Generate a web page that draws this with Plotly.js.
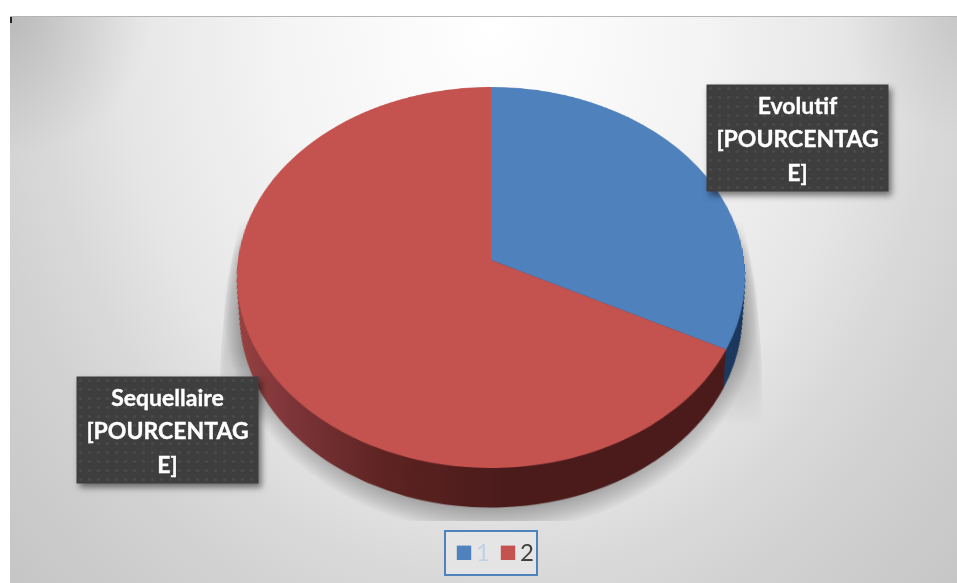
<!DOCTYPE html>
<html>
<head>
<meta charset="utf-8">
<script src="https://cdn.plot.ly/plotly-3.0.1.min.js"></script>
<style>
  html, body { margin: 0; padding: 0; background: #fff; width: 957px; height: 583px; overflow: hidden; }
  #panel { position: absolute; left: 10px; top: 16px; width: 947px; height: 567px; overflow: hidden;
    border-top: 1px solid #b5b5b5; box-sizing: border-box;
    background:
      radial-gradient(circle 140px at 0 0, rgba(0,0,0,.13), rgba(0,0,0,0)),
      radial-gradient(circle 120px at 100% 0, rgba(0,0,0,.07), rgba(0,0,0,0)),
      radial-gradient(ellipse 650px 800px at 480px 10px, #ffffff 0%, #f4f4f4 32%, #e6e6e6 56%, #d9d9d9 69%, #d1d1d1 80%, #c6c6c6 100%); }
  #castShadow { position: absolute; left: 0; top: 0; width: 947px; height: 504px; overflow: hidden; }
  #castShadow div { position: absolute; border-radius: 50%; }
  #castFar { left: 209px; top: -92px; width: 544px; height: 952px;
    background: radial-gradient(closest-side, rgba(0,0,0,.2) 0%, rgba(0,0,0,.2) 92%, rgba(0,0,0,.11) 98%, rgba(0,0,0,.05) 99.6%, rgba(0,0,0,0) 100%);
    -webkit-mask-image: linear-gradient(to bottom, transparent 295px, #000 330px, #000 426px, transparent 500px);
    mask-image: linear-gradient(to bottom, transparent 295px, #000 330px, #000 426px, transparent 500px); }
  #castNear { left: 213px; top: 72px; width: 536px; height: 444px;
    background: radial-gradient(closest-side, rgba(0,0,0,.3) 0%, rgba(0,0,0,.3) 88%, rgba(0,0,0,.14) 95%, rgba(0,0,0,0) 100%); }
  #chart { position: absolute; left: 0; top: 0; width: 957px; height: 583px; }
</style>
</head>
<body>
<div id="panel"><div id="castShadow"><div id="castFar"></div><div id="castNear"></div></div></div>
<div id="chart"></div>
<script>
// Share of cases by outcome
const legendKeys = ['1', '2'];
const shares = [32.5, 67.5];
const faceColors = ['#4f81bd', '#c4524f'];
const rimColors = ['#1f3a5f', '#4b1b1b'];
const calloutLines = [
  'Evolutif<br>[POURCENTAG<br>E]',
  'Sequellaire<br>[POURCENTAG<br>E]'
];

// Disc geometry before the tilt is applied, in page pixels
const W = 957, H = 583, CX = 491, CY = 260, R = 250;
const RIM_STEPS = 44, RIM_DROP = 0.2, RIM_SHRINK = 0.03;

function disc(offset, radius, colors, legend) {
  return {
    type: 'pie', values: shares, labels: legendKeys, sort: false, direction: 'clockwise', rotation: 0,
    textinfo: 'none', hoverinfo: 'none', showlegend: legend,
    marker: { colors: colors, line: { width: 0 } },
    domain: {
      x: [(CX - radius) / W, (CX + radius) / W],
      y: [1 - (CY + offset + radius) / H, 1 - (CY + offset - radius) / H]
    }
  };
}

// Stacked discs build up the rim, the top face goes last
const traces = [];
for (let i = RIM_STEPS; i >= 1; i--) {
  const t = i / RIM_STEPS;
  traces.push(disc(t * RIM_DROP * R, R * (1 - RIM_SHRINK * t), rimColors, false));
}
traces.push(disc(0, R, faceColors, true));

const calloutStyle = {
  xref: 'paper', yref: 'paper', xanchor: 'center', yanchor: 'middle', showarrow: false, width: 181, height: 106,
  bgcolor: '#404040', borderpad: 0, align: 'center', valign: 'middle',
  font: { family: 'Lato, sans-serif', size: 23, color: '#ffffff', weight: 700 }
};

const layout = {
  width: W, height: H,
  margin: { l: 0, r: 0, t: 0, b: 0, autoexpand: false },
  paper_bgcolor: 'rgba(0,0,0,0)',
  showlegend: true,
  legend: {
    orientation: 'h', x: 444 / W, y: 1 - 530 / H, xanchor: 'left', yanchor: 'top',
    bgcolor: 'rgba(232,232,232,0.7)', bordercolor: '#4f81bd', borderwidth: 2,
    font: { family: 'Lato, sans-serif', size: 22, color: '#404040' }
  },
  annotations: [
    Object.assign({ text: calloutLines[0], x: 797 / W, y: 1 - 137.5 / H }, calloutStyle),
    Object.assign({ text: calloutLines[1], x: 167 / W, y: 1 - 429.5 / H }, calloutStyle)
  ],
  shapes: [{ type: 'rect', xref: 'paper', yref: 'paper', x0: 10 / W, x1: 12 / W, y0: 1 - 23 / H, y1: 1 - 17 / H,
    fillcolor: '#222222', line: { width: 0 } }]
};

const gd = document.getElementById('chart');
Plotly.newPlot(gd, traces, layout, { displayModeBar: false, staticPlot: true }).then(function () {
  const svgNS = 'http://www.w3.org/2000/svg';
  const paper = gd.querySelector('.main-svg');

  // Tilt the discs back with a perspective projection around the pie centre
  const a = 188.9 / R, b = 253 / R, k = -0.0918 / R;
  paper.style.transformOrigin = CX + 'px ' + CY + 'px';
  paper.style.transform = 'matrix3d(' + [b, 0, 0, 0, 0, a, 0, k, 0, 0, 1, 0, 0, 0, 0, 1].join(',') + ')';

  // Rim shading runs from lit on the left to dark at the front
  const defs = document.createElementNS(svgNS, 'defs');
  defs.innerHTML =
    '<linearGradient id="rimShade" x1="0" x2="1" y1="0" y2="0">' +
    '<stop offset="0" stop-color="#984240"/><stop offset="0.12" stop-color="#80363a"/>' +
    '<stop offset="0.33" stop-color="#5c2321"/><stop offset="0.55" stop-color="#4b1b1b"/>' +
    '<stop offset="1" stop-color="#4b1b1b"/></linearGradient>';
  paper.appendChild(defs);
  gd.querySelectorAll('.pielayer .trace').forEach(function (tr, i) {
    if (i < traces.length - 1) {
      const s = tr.querySelectorAll('.slice path.surface');
      if (s[1]) s[1].style.fill = 'url(#rimShade)';
    }
  });

  // Dotted texture and soft shadow on the callouts, with roomier line spacing
  const top = gd.querySelectorAll('.main-svg')[1];
  const topDefs = document.createElementNS(svgNS, 'defs');
  topDefs.innerHTML =
    '<pattern id="calloutDots" width="9" height="9" patternUnits="userSpaceOnUse">' +
    '<rect width="9" height="9" fill="#3e3e3e"/><circle cx="4.5" cy="4.5" r="1.6" fill="#4a4a4a"/></pattern>';
  top.insertBefore(topDefs, top.firstChild);
  gd.querySelectorAll('.annotation rect.bg').forEach(function (r) {
    r.style.fill = 'url(#calloutDots)';
    r.style.filter = 'drop-shadow(3px 4px 3px rgba(0,0,0,0.5))';
  });
  gd.querySelectorAll('.annotation-text').forEach(function (t) {
    t.style.stroke = '#ffffff';
    t.style.strokeWidth = '0.35px';
    t.querySelectorAll('tspan.line').forEach(function (line, i) {
      line.setAttribute('dy', (i * 1.45 - 0.13) + 'em');
    });
  });

  // Compact legend: larger keys, tighter spacing, first key washed out
  const items = gd.querySelectorAll('.legend .traces');
  items.forEach(function (item, i) {
    const text = item.querySelector('.legendtext');
    text.style.fontSize = '24px';
    text.setAttribute('x', 30);
    if (i === 0) text.style.fill = '#bfd1e6';
    const swatch = item.querySelector('.legendpie');
    if (swatch) swatch.setAttribute('transform', 'translate(18,0) scale(1.2)');
    const m = /translate\(([-\d.]+),\s*([-\d.]+)\)/.exec(item.getAttribute('transform') || '');
    if (m) item.setAttribute('transform', 'translate(' + (2 + i * 44) + ',' + m[2] + ')');
  });
  const box = gd.querySelector('.legend rect.bg');
  if (box) box.setAttribute('width', 92);
  const clip = gd.querySelector('.legend .scrollbox');
  if (clip) clip.removeAttribute('clip-path');
});
</script>
</body>
</html>
